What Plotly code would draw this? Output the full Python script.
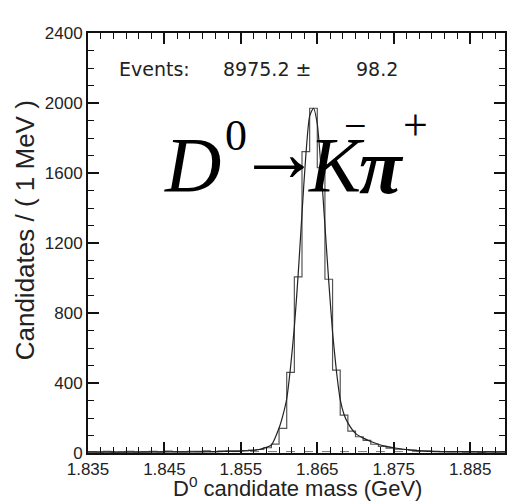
import plotly.graph_objects as go

# ---- data ----
bin_edges_start = 1.835
bin_width = 0.001
hist_counts = [8, 6, 9, 5, 7, 10, 6, 8, 9, 7,
               11, 8, 6, 10, 9, 12, 8, 11, 13, 12,
               14, 16, 20, 30, 51, 141, 461, 1006, 1722, 1970,
               1630, 993, 474, 217, 125, 93, 72, 50, 38, 28,
               22, 20, 16, 12, 12, 9, 8, 6, 8, 5,
               6, 4, 7, 5, 6]

fit_mass = [1.835, 1.840, 1.845, 1.850, 1.853, 1.855, 1.857, 1.858, 1.859, 1.860,
            1.8605, 1.861, 1.8615, 1.862, 1.8625, 1.863, 1.8635, 1.864, 1.8645, 1.865,
            1.8655, 1.866, 1.8665, 1.867, 1.8675, 1.868, 1.8685, 1.869, 1.870, 1.871,
            1.872, 1.873, 1.874, 1.875, 1.877, 1.879, 1.882, 1.8896]
fit_vals = [5, 5, 6, 7, 9, 11, 17, 28, 46, 143,
            215, 310, 490, 720, 1020, 1370, 1700, 1925, 1970, 1880,
            1620, 1300, 980, 690, 470, 305, 220, 172, 112, 85,
            66, 50, 38, 30, 18, 11, 8, 7]

bkg_mass = [1.835, 1.8896]
bkg_vals = [8, 8]

y_ticks = [0, 400, 800, 1200, 1600, 2000, 2400]

# ---- build histogram outline ----
hx = [bin_edges_start + i * bin_width for i in range(len(hist_counts) + 1)]
hy = hist_counts + [hist_counts[-1]]

fig = go.Figure()
fig.add_trace(go.Scatter(x=bkg_mass, y=bkg_vals, mode="lines",
                         line=dict(color="#777", width=1, dash="dash"),
                         hoverinfo="skip", showlegend=False))
fig.add_trace(go.Scatter(x=hx, y=hy, mode="lines", line_shape="hv",
                         line=dict(color="#555", width=1.2),
                         showlegend=False))
fig.add_trace(go.Scatter(x=fit_mass, y=fit_vals, mode="lines",
                         line=dict(color="#222", width=1.2, shape="spline", smoothing=0.6),
                         showlegend=False))

axis_common = dict(showline=True, linecolor="#111", linewidth=2, mirror="ticks",
                   ticks="inside", tickcolor="#111", tickwidth=1.5, ticklen=11,
                   showgrid=False, zeroline=False,
                   tickfont=dict(family="Liberation Sans, Arial", size=17, color="#222"))

fig.update_xaxes(range=[1.835, 1.88956], tick0=1.835, dtick=0.01, tickformat=".3f",
                 minor=dict(tick0=1.835, dtick=0.01 / 6, ticklen=6, ticks="inside",
                            tickcolor="#111", tickwidth=1.2),
                 **axis_common)
fig.update_yaxes(range=[0, 2400], tickvals=y_ticks,
                 minor=dict(dtick=100, ticklen=6, ticks="inside",
                            tickcolor="#111", tickwidth=1.2),
                 **axis_common)

serif = "Liberation Serif, Times New Roman, serif"
ann = []
def A(text, x, y, size, family=serif, **kw):
    ann.append(dict(text=text, x=x, y=y, xref="x", yref="y", showarrow=False,
                    font=dict(family=family, size=size, color="#000"),
                    xanchor="center", yanchor="middle", **kw))

A("<i>D</i>", 1.84867, 1651, 78)
A("0", 1.8544, 1817, 44)
A("\u2192", 1.8600, 1720, 84)
A("<i>K</i>", 1.8675, 1651, 78)
A("\u2212", 1.8700, 1870, 40)
A("<i><b>\u03c0</b></i>", 1.8734, 1640, 78)
A("+", 1.8779, 1869, 44)

sans = "DejaVu Sans"
ey = (453 - 69) / 420
for txt, px in [("Events:", 117), ("8975.2 \u00b1", 222), ("98.2", 355)]:
    ann.append(dict(text=txt, x=(px - 88) / 419, y=ey, xref="paper", yref="paper",
                    showarrow=False, xanchor="left", yanchor="middle",
                    font=dict(family=sans, size=19, color="#222")))
ann.append(dict(text="D<sup>0</sup> candidate mass (GeV)", x=(299 - 88) / 419, y=(453 - 487) / 420,
                xref="paper", yref="paper", showarrow=False, xanchor="center", yanchor="middle",
                font=dict(family="Liberation Sans, Arial", size=22, color="#222")))
ann.append(dict(text="Candidates / ( 1 MeV )", x=(25 - 88) / 419, y=(453 - 230) / 420,
                xref="paper", yref="paper", showarrow=False, xanchor="center", yanchor="middle",
                textangle=-90, font=dict(family="Liberation Sans, Arial", size=26, color="#222")))

fig.update_layout(width=508, height=504, margin=dict(l=88, r=1, t=33, b=51),
                  paper_bgcolor="white", plot_bgcolor="white", annotations=ann)

fig.write_html("out.html")
